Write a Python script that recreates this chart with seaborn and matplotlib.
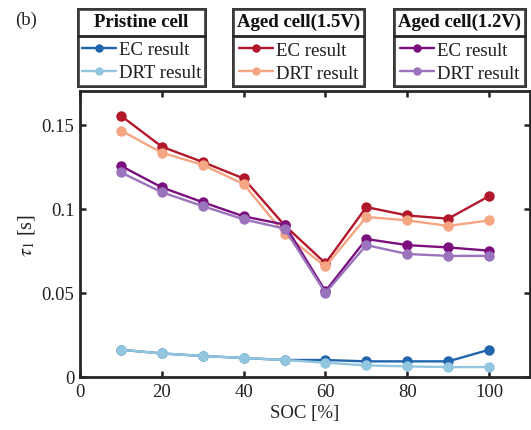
import numpy as np
import pandas as pd
import matplotlib
matplotlib.use("Agg")
import matplotlib.pyplot as plt
import seaborn as sns
from matplotlib.lines import Line2D
from matplotlib.ticker import FuncFormatter

soc = [10, 20, 30, 40, 50, 60, 70, 80, 90, 100]
pristine_ec = [0.0162, 0.0140, 0.0125, 0.0113, 0.0101, 0.0101, 0.0093, 0.0093, 0.0093, 0.0162]
pristine_drt = [0.0162, 0.0140, 0.0125, 0.0113, 0.0101, 0.0085, 0.0069, 0.0063, 0.0059, 0.0059]
aged15_ec = [0.1553, 0.1369, 0.1278, 0.1180, 0.0902, 0.0676, 0.1010, 0.0960, 0.0941, 0.1075]
aged15_drt = [0.1465, 0.1333, 0.1261, 0.1147, 0.0849, 0.0657, 0.0951, 0.0931, 0.0898, 0.0931]
aged12_ec = [0.1255, 0.1127, 0.1039, 0.0955, 0.0906, 0.0510, 0.0820, 0.0784, 0.0770, 0.0751]
aged12_drt = [0.1216, 0.1098, 0.1016, 0.0937, 0.0882, 0.0500, 0.0784, 0.0731, 0.0720, 0.0720]

groups = ["Pristine cell", "Aged cell(1.5V)", "Aged cell(1.2V)"]
methods = ["EC result", "DRT result"]
series = {
    ("Pristine cell", "EC result"): pristine_ec,
    ("Pristine cell", "DRT result"): pristine_drt,
    ("Aged cell(1.5V)", "EC result"): aged15_ec,
    ("Aged cell(1.5V)", "DRT result"): aged15_drt,
    ("Aged cell(1.2V)", "EC result"): aged12_ec,
    ("Aged cell(1.2V)", "DRT result"): aged12_drt,
}
colors = {
    ("Pristine cell", "EC result"): "#2166ac",
    ("Pristine cell", "DRT result"): "#92c5de",
    ("Aged cell(1.5V)", "EC result"): "#b2182b",
    ("Aged cell(1.5V)", "DRT result"): "#f4a582",
    ("Aged cell(1.2V)", "EC result"): "#7b0f7e",
    ("Aged cell(1.2V)", "DRT result"): "#9a73bd",
}

rows = []
for (g, m), vals in series.items():
    for s, v in zip(soc, vals):
        rows.append({"SOC": s, "tau": v, "key": f"{g}|{m}"})
df = pd.DataFrame(rows)
palette = {f"{g}|{m}": c for (g, m), c in colors.items()}

sns.set_style("ticks")
plt.rcParams["font.family"] = ["Liberation Serif", "DejaVu Serif"]
plt.rcParams["mathtext.fontset"] = "stix"
FS = 13.5

fig = plt.figure(figsize=(5.31, 4.31), dpi=100)
ax = fig.add_axes([80 / 531, 53 / 431, 450 / 531, 286 / 431])

sns.lineplot(data=df, x="SOC", y="tau", hue="key", palette=palette,
             hue_order=list(palette.keys()), marker="o", markersize=7.5,
             markeredgewidth=0, linewidth=1.7, legend=False, ax=ax)

ax.set_xlim(0, 110)
ax.set_ylim(0, 0.17)
ax.set_xticks([0, 20, 40, 60, 80, 100])
ax.set_yticks([0, 0.05, 0.1, 0.15])
ax.yaxis.set_major_formatter(FuncFormatter(lambda v, p: f"{v:g}"))
ax.tick_params(direction="in", top=True, right=True, length=4, width=1.8,
               labelsize=FS, pad=4, colors="#222222", labelcolor="#222222")
for sp in ax.spines.values():
    sp.set_visible(True)
    sp.set_linewidth(2.0)
    sp.set_color("#262626")
ax.set_xlabel("SOC [%]", fontsize=FS, color="#222222", labelpad=3)
ax.set_ylabel(r"$\tau_1$ [s]", fontsize=FS + 1, color="#222222", labelpad=3)

fig.text(15 / 531, 1 - 20 / 431, "(b)", fontsize=FS, color="#222222", va="center")

boxes = [(78, 208), (233, 363), (394, 527)]
for g, (x0, x1) in zip(groups, boxes):
    handles = [Line2D([], [], color=colors[(g, m)], marker="o", markersize=6,
                      markeredgewidth=0, linewidth=1.7) for m in methods]
    leg = fig.legend(handles, methods, loc="upper left",
                     bbox_to_anchor=(x0 / 531, 1 - 10 / 431),
                     bbox_transform=fig.transFigure, borderaxespad=0,
                     title=g, title_fontproperties={"weight": "bold", "size": FS},
                     fontsize=FS, frameon=True, fancybox=False, edgecolor="#262626",
                     handlelength=1.8, handletextpad=0.15, labelspacing=0.32,
                     borderpad=0.22)
    leg._legend_box.sep = 8.0
    leg.get_frame().set_linewidth(2.0)
    for t in leg.get_texts():
        t.set_color("#222222")
    leg.get_title().set_color("#111111")
    fig.add_artist(leg)

fig.canvas.draw()
renderer = fig.canvas.get_renderer()
for leg in fig.legends:
    fb = leg.get_frame().get_window_extent(renderer)
    tb = leg.get_title().get_window_extent(renderer)
    eb = leg.get_texts()[0].get_window_extent(renderer)
    ysep = (tb.y0 + eb.y1) / 2
    fig.add_artist(Line2D([fb.x0 / 531, fb.x1 / 531], [ysep / 431, ysep / 431],
                          transform=fig.transFigure, color="#262626",
                          linewidth=2.0, zorder=20))

fig.savefig("out.png", dpi=100)
